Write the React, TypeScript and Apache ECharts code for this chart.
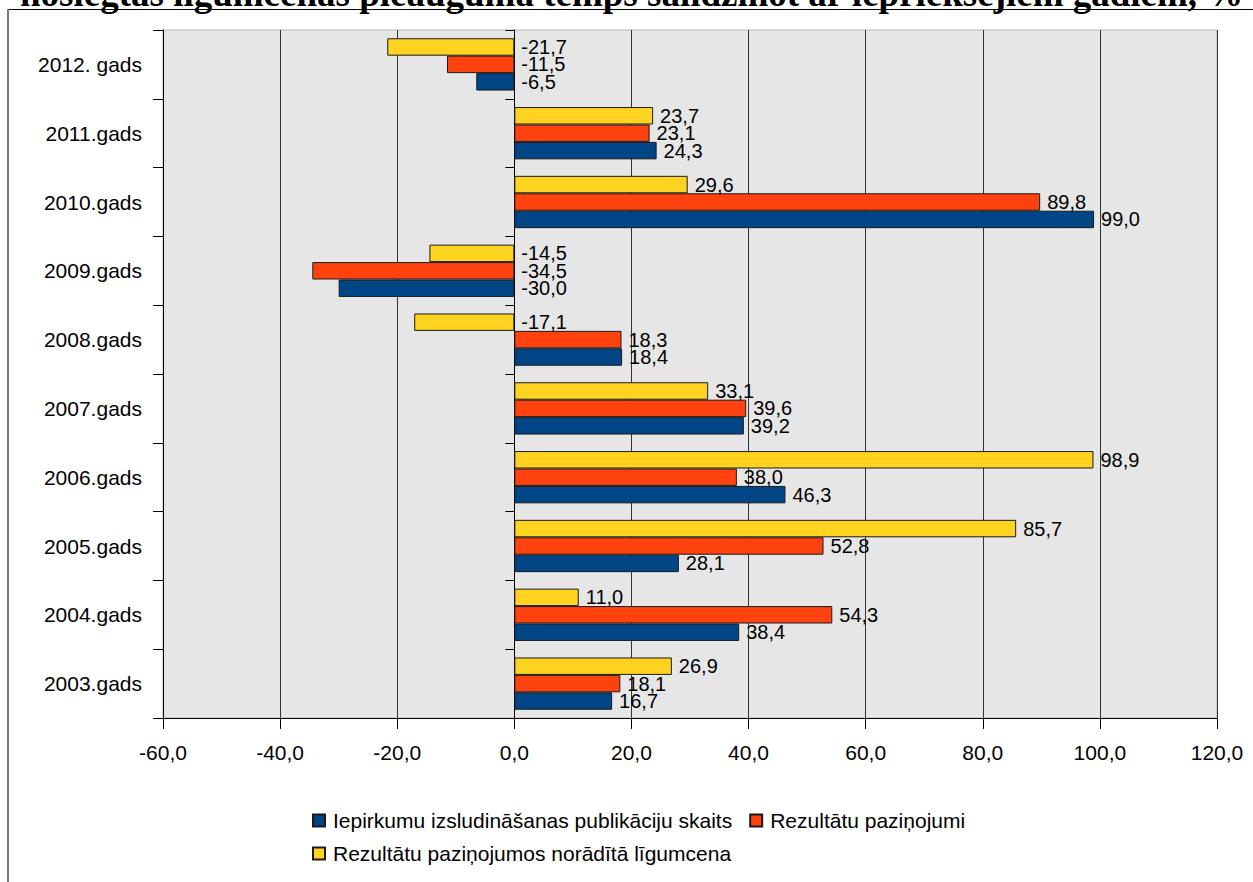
import React, { useEffect, useRef } from "react";
import * as echarts from "echarts";

const categories = [
  "2003.gads",
  "2004.gads",
  "2005.gads",
  "2006.gads",
  "2007.gads",
  "2008.gads",
  "2009.gads",
  "2010.gads",
  "2011.gads",
  "2012. gads",
];

const seriesNames = [
  "Iepirkumu izsludināšanas publikāciju skaits",
  "Rezultātu paziņojumi",
  "Rezultātu paziņojumos norādītā līgumcena",
];

const publikacijas = [16.7, 38.4, 28.1, 46.3, 39.2, 18.4, -30.0, 99.0, 24.3, -6.5];
const pazinojumi = [18.1, 54.3, 52.8, 38.0, 39.6, 18.3, -34.5, 89.8, 23.1, -11.5];
const ligumcena = [26.9, 11.0, 85.7, 98.9, 33.1, -17.1, -14.5, 29.6, 23.7, -21.7];

const xTicks = { min: -60, max: 120, interval: 20 };

const titleText =
  "noslēgtās līgumcenas pieauguma temps salīdzinot ar iepriekšējiem gadiem, %";

const colors = ["#004586", "#ff420e", "#ffd320"];

const FONT = "'Liberation Sans', Arial, sans-serif";

const fmt = (v: number) => v.toFixed(1).replace(".", ",");

const GRID_LEFT = 163;
const GRID_RIGHT = 36;
const CHART_W = 1253;

export default function App() {
  const ref = useRef<HTMLDivElement>(null);

  useEffect(() => {
    if (!ref.current) return;
    const chart = echarts.init(ref.current, null, { renderer: "svg" });

    const gridW = CHART_W - GRID_LEFT - GRID_RIGHT;
    const zeroOffset = -((0 - xTicks.min) / (xTicks.max - xTicks.min)) * gridW;

    const mkSeries = (name: string, data: number[], color: string) => ({
      name,
      type: "bar",
      data,
      xAxisIndex: 0,
      yAxisIndex: 0,
      barGap: "0%",
      barCategoryGap: "24%",
      itemStyle: { color, borderColor: "#1a1a1a", borderWidth: 1 },
      label: {
        show: true,
        position: "right",
        distance: 7,
        color: "#000",
        fontFamily: FONT,
        fontSize: 20,
        formatter: (p: any) => fmt(p.value),
      },
    });

    const option: any = {
      animation: false,
      backgroundColor: "#ffffff",
      textStyle: { fontFamily: FONT },
      grid: {
        left: GRID_LEFT,
        right: GRID_RIGHT,
        top: 30,
        bottom: 164,
        show: true,
        backgroundColor: "#e6e6e6",
        borderColor: "#b8b8b8",
        borderWidth: 1,
        containLabel: false,
      },
      legend: [
        {
          data: [seriesNames[0], seriesNames[1]],
          left: 307,
          top: 805,
          orient: "horizontal",
          icon: "rect",
          itemWidth: 12,
          itemHeight: 12,
          itemGap: 17,
          textStyle: { fontSize: 21, color: "#000", fontFamily: FONT, padding: [0, 0, 0, 3] },
        },
        {
          data: [seriesNames[2]],
          left: 307,
          top: 838,
          orient: "horizontal",
          icon: "rect",
          itemWidth: 12,
          itemHeight: 12,
          textStyle: { fontSize: 21, color: "#000", fontFamily: FONT, padding: [0, 0, 0, 3] },
        },
      ],
      xAxis: {
        type: "value",
        min: xTicks.min,
        max: xTicks.max,
        interval: xTicks.interval,
        axisLine: { show: true, onZero: false, lineStyle: { color: "#000", width: 1 } },
        axisTick: { show: true, length: 11, lineStyle: { color: "#000" } },
        axisLabel: {
          color: "#000",
          fontSize: 21,
          fontFamily: FONT,
          margin: 24,
          formatter: (v: number) => fmt(v),
        },
        splitLine: { show: true, lineStyle: { color: "#333333", width: 1 } },
      },
      yAxis: [
        {
          type: "category",
          data: categories,
          position: "left",
          axisLine: { show: true, onZero: false, lineStyle: { color: "#000" } },
          axisTick: { show: true, length: 10, alignWithLabel: false, lineStyle: { color: "#000" } },
          axisLabel: { color: "#000", fontSize: 21, fontFamily: FONT, margin: 21 },
          splitLine: { show: false },
        },
        {
          type: "category",
          data: categories,
          position: "left",
          offset: zeroOffset,
          axisLine: { show: true, onZero: false, lineStyle: { color: "#000" } },
          axisTick: { show: true, length: 9, alignWithLabel: false, lineStyle: { color: "#000" } },
          axisLabel: { show: false },
          splitLine: { show: false },
        },
      ],
      // order within a band: first series drawn on top row
      series: [
        mkSeries(seriesNames[2], ligumcena, colors[2]),
        mkSeries(seriesNames[1], pazinojumi, colors[1]),
        mkSeries(seriesNames[0], publikacijas, colors[0]),
      ],
      graphic: [
        {
          type: "text",
          left: 20,
          top: -25,
          z: 100,
          style: {
            text: titleText,
            fontFamily: "'Liberation Serif', 'Times New Roman', serif",
            fontWeight: "bold",
            fontSize: 37,
            fill: "#000",
          },
        },
        {
          type: "line",
          z: 101,
          shape: { x1: 7, y1: 9.5, x2: 1253, y2: 9.5 },
          style: { stroke: "#000", lineWidth: 1 },
        },
        {
          type: "line",
          z: 101,
          shape: { x1: 8, y1: 9, x2: 8, y2: 882 },
          style: { stroke: "#7a7a7a", lineWidth: 2 },
        },
      ],
    };

    chart.setOption(option);
    return () => chart.dispose();
  }, []);

  return (
    <div
      ref={ref}
      style={{ position: "fixed", left: 0, top: 0, width: 1253, height: 882, background: "#fff" }}
    />
  );
}
